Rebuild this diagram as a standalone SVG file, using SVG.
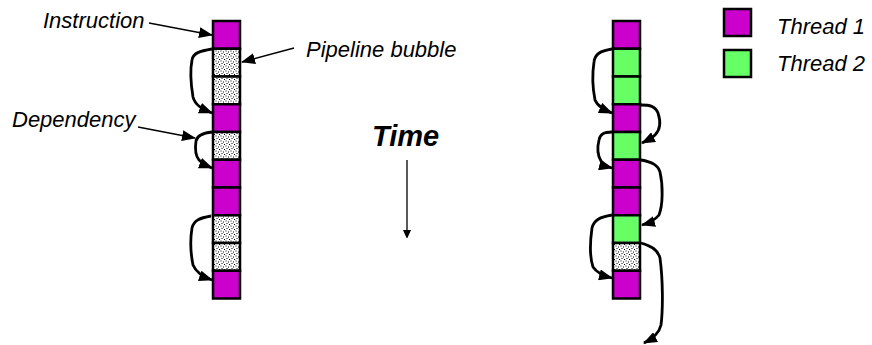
<svg xmlns="http://www.w3.org/2000/svg" width="872" height="345" viewBox="0 0 872 345">
  <defs>
    <pattern id="stipple" width="5" height="5" patternUnits="userSpaceOnUse">
      <rect width="5" height="5" fill="#ffffff"/>
      <rect x="0.5" y="0.5" width="1" height="1" fill="#000"/>
      <rect x="3" y="1.5" width="1" height="1" fill="#000"/>
      <rect x="1.5" y="3" width="1" height="1" fill="#000"/>
      <rect x="4" y="4" width="1" height="1" fill="#000"/>
    </pattern>
    <marker id="head" viewBox="0 0 14 11" markerWidth="14" markerHeight="11" refX="13" refY="5.5" orient="auto" markerUnits="userSpaceOnUse">
      <path d="M0,0 L14,5.5 L0,11 z" fill="#000"/>
    </marker>
    <marker id="headSmall" viewBox="0 0 8 10" markerWidth="8" markerHeight="10" refX="7" refY="4" orient="auto" markerUnits="userSpaceOnUse">
      <path d="M0,0 L9,4 L0,8 z" fill="#000"/>
    </marker>
  </defs>
  <style>
    .cell { stroke: #000; stroke-width: 2.5; }
    .t1 { fill: #CC00CC; }
    .t2 { fill: #66FF66; }
    .bub { fill: url(#stipple); }
    .dep { fill: none; stroke: #000; stroke-width: 2.8; marker-end: url(#head); }
    .ptr { fill: none; stroke: #000; stroke-width: 1.3; marker-end: url(#head); }
    .lbl { font-family: "Liberation Sans", Arial, sans-serif; font-style: italic; font-size: 22px; fill: #000; }
    .time { font-family: "Liberation Sans", Arial, sans-serif; font-style: italic; font-weight: bold; font-size: 29px; fill: #000; }
  </style>

  <!-- single-thread pipeline -->
  <g id="single-thread">
    <rect class="cell t1"  x="213" y="21"     width="27" height="27.75"/>
    <rect class="cell bub" x="213" y="48.75"  width="27" height="27.75"/>
    <rect class="cell bub" x="213" y="76.5"   width="27" height="27.75"/>
    <rect class="cell t1"  x="213" y="104.25" width="27" height="27.75"/>
    <rect class="cell bub" x="213" y="132"    width="27" height="27.75"/>
    <rect class="cell t1"  x="213" y="159.75" width="27" height="27.75"/>
    <rect class="cell t1"  x="213" y="187.5"  width="27" height="27.75"/>
    <rect class="cell bub" x="213" y="215.25" width="27" height="27.75"/>
    <rect class="cell bub" x="213" y="243"    width="27" height="27.75"/>
    <rect class="cell t1"  x="213" y="270.75" width="27" height="27.75"/>
  </g>

  <!-- two-thread interleaved pipeline -->
  <g id="multi-thread">
    <rect class="cell t1"  x="613" y="21"     width="27" height="27.75"/>
    <rect class="cell t2"  x="613" y="48.75"  width="27" height="27.75"/>
    <rect class="cell t2"  x="613" y="76.5"   width="27" height="27.75"/>
    <rect class="cell t1"  x="613" y="104.25" width="27" height="27.75"/>
    <rect class="cell t2"  x="613" y="132"    width="27" height="27.75"/>
    <rect class="cell t1"  x="613" y="159.75" width="27" height="27.75"/>
    <rect class="cell t1"  x="613" y="187.5"  width="27" height="27.75"/>
    <rect class="cell t2"  x="613" y="215.25" width="27" height="27.75"/>
    <rect class="cell bub" x="613" y="243"    width="27" height="27.75"/>
    <rect class="cell t1"  x="613" y="270.75" width="27" height="27.75"/>
  </g>

  <!-- legend -->
  <g id="legend-thread1">
    <rect class="cell t1" x="724" y="9" width="27" height="27"/>
    <text class="lbl" x="777" y="34">Thread 1</text>
  </g>
  <g id="legend-thread2">
    <rect class="cell t2" x="724" y="50" width="27" height="27"/>
    <text class="lbl" x="777" y="71">Thread 2</text>
  </g>

  <!-- labels -->
  <g id="label-instruction"><text class="lbl" x="43" y="28">Instruction</text></g>
  <g id="label-bubble"><text class="lbl" x="306" y="57">Pipeline bubble</text></g>
  <g id="label-dependency"><text class="lbl" x="12" y="127">Dependency</text></g>
  <g id="label-time"><text class="time" x="372" y="146">Time</text></g>

  <!-- connectors -->
  <g id="connectors">
    <!-- label pointers -->
    <path class="ptr" d="M149,23 L212,35"/>
    <path class="ptr" d="M294,48 L242,62"/>
    <path class="ptr" d="M138,127 L195,138"/>
    <path d="M407,160 L407,237" fill="none" stroke="#000" stroke-width="1.3" marker-end="url(#headSmall)"/>

    <!-- dependencies, single thread -->
    <path class="dep" d="M212,49 C200,51 193,53 192,60 C190,70 191,85 193,97 C195,105 202,109 212,113"/>
    <path class="dep" d="M212,132 C203,133 197,135 196,141 C195,148 195,155 199,160 C203,164 207,166 212,168"/>
    <path class="dep" d="M211,216 C200,218 194,220 192,228 C190,240 191,255 193,265 C196,272 203,277 212,280"/>

    <!-- dependencies, two threads -->
    <path class="dep" d="M612,49 C600,51 595,54 594,62 C592,75 593,90 595,100 C598,107 605,110 612,113"/>
    <path class="dep" d="M641,105 C650,105 655,106 658,113 C661,122 660,130 655,135 C651,139 646,141 642,143"/>
    <path class="dep" d="M612,132 C604,132 600,134 599,140 C597,148 598,156 601,161 C604,165 608,167 612,168"/>
    <path class="dep" d="M641,160 C652,162 658,165 660,172 C663,185 663,205 659,215 C655,220 649,223 642,225"/>
    <path class="dep" d="M612,215 C600,217 594,220 592,228 C590,242 590,258 593,267 C597,273 604,276 612,278"/>
    <path class="dep" d="M641,243 C652,246 658,250 660,258 C663,280 663,310 661,325 C659,334 652,339 644,343"/>
  </g>
</svg>
